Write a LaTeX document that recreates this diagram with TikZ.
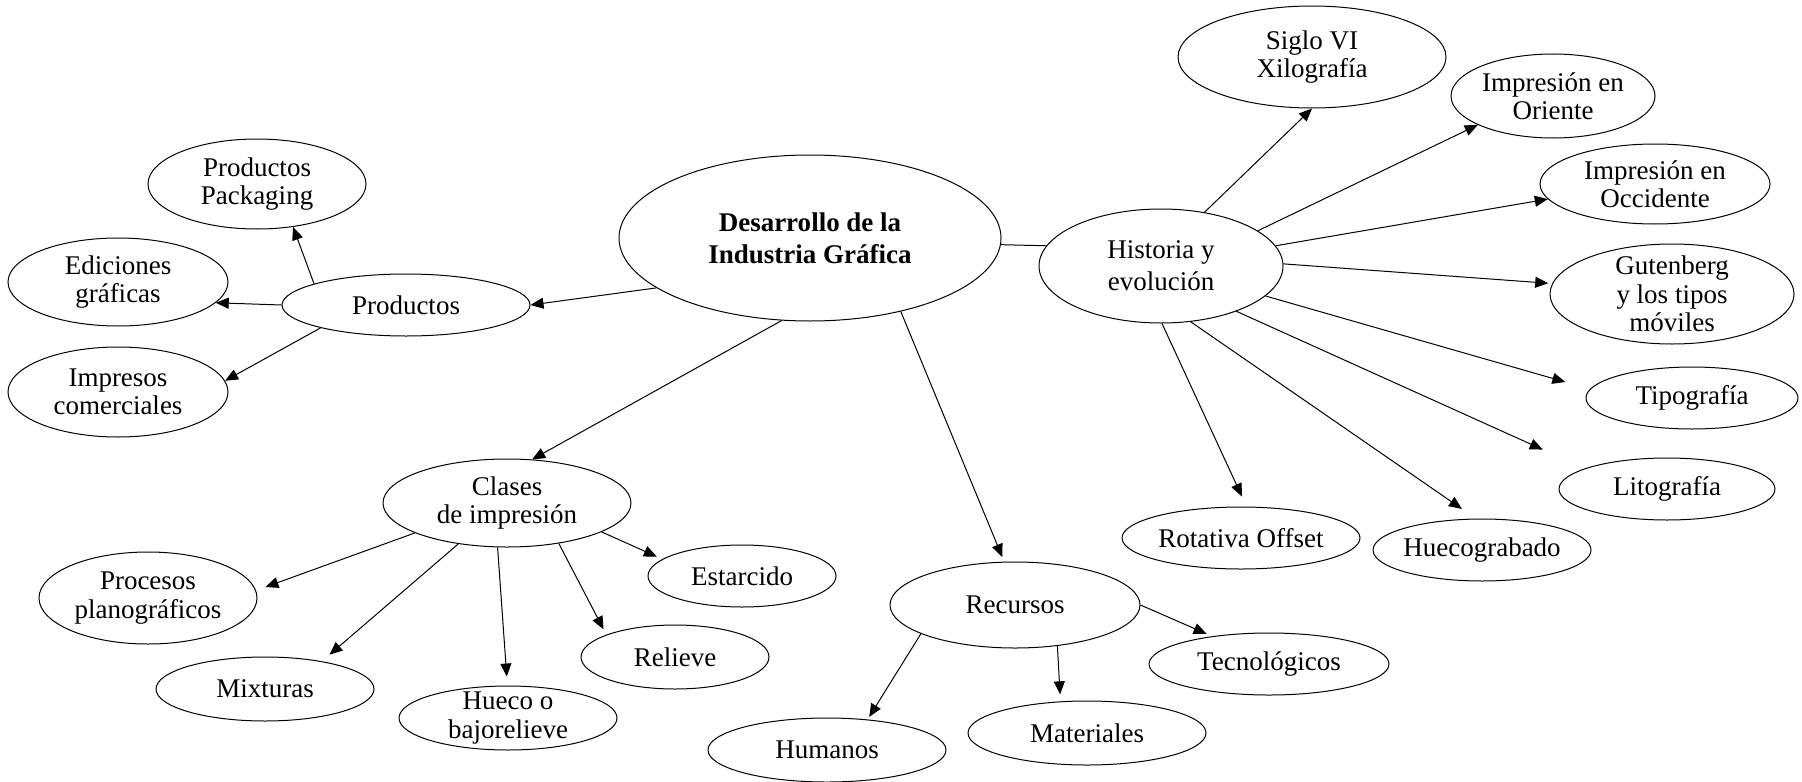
\documentclass[tikz,border=0pt]{standalone}
\usepackage{fontspec}
\setmainfont{Liberation Serif}
\usepackage{tikz}
\usetikzlibrary{shapes.geometric,arrows.meta}
\tikzstyle{topic}=[draw, ellipse, inner sep=-3pt, align=center, line width=0.5pt, font={\fontsize{13.5}{14.2}\selectfont}]
\tikzstyle{arrow}=[-{Triangle[length=6.5pt,width=5.5pt]}, line width=0.5pt]
\tikzstyle{link}=[line width=0.5pt]

\begin{document}
\begin{tikzpicture}[x=0.5pt, y=-0.5pt]%[baseline=0ex]
        \useasboundingbox (0,0) rectangle (1802,781);
        \node[topic, font={\fontsize{13.5}{16}\selectfont\bfseries}, minimum width=191pt, minimum height=83pt] (dig) at (810,238) {Desarrollo de la\\Industria Gráfica};
        \node[topic, font={\fontsize{13.5}{16}\selectfont}, minimum width=122pt, minimum height=57pt] (hist) at (1161,266) {Historia y\\evolución};
        \node[topic, minimum width=134pt, minimum height=51pt] (siglo) at (1312,57) {Siglo VI\\Xilografía};
        \node[topic, minimum width=102pt, minimum height=42pt] (oriente) at (1553,96) {Impresión en\\Oriente};
        \node[topic, minimum width=115pt, minimum height=40pt] (occid) at (1655,184) {Impresión en\\Occidente};
        \node[topic, minimum width=122pt, minimum height=50pt] (guten) at (1672,294) {Gutenberg\\y los tipos\\móviles};
        \node[topic, minimum width=106pt, minimum height=31pt] (tipo) at (1692,398) {Tipografía};
        \node[topic, minimum width=108pt, minimum height=31pt] (lito) at (1667,489) {Litografía};
        \node[topic, minimum width=109pt, minimum height=31pt] (huecogr) at (1482,550) {Huecograbado};
        \node[topic, minimum width=119pt, minimum height=31pt] (offset) at (1241,538) {Rotativa Offset};

        \node[topic, minimum width=124pt, minimum height=31pt] (prod) at (406,305) {Productos};
        \node[topic, minimum width=109pt, minimum height=45pt] (pack) at (257,184) {Productos\\Packaging};
        \node[topic, minimum width=110pt, minimum height=44pt] (edic) at (118,282) {Ediciones\\gráficas};
        \node[topic, minimum width=110pt, minimum height=45pt] (impr) at (118,392) {Impresos\\comerciales};

        \node[topic, minimum width=124pt, minimum height=44pt] (clases) at (507,503) {Clases\\de impresión};
        \node[topic, minimum width=109pt, minimum height=46pt] (plano) at (148,598) {Procesos\\planográficos};
        \node[topic, minimum width=94pt, minimum height=31pt] (estar) at (742,576) {Estarcido};
        \node[topic, minimum width=109pt, minimum height=32pt] (mixt) at (265,689) {Mixturas};
        \node[topic, minimum width=109pt, minimum height=32pt] (bajorel) at (508,718) {Hueco o\\bajorelieve};
        \node[topic, minimum width=94pt, minimum height=32pt] (reliev) at (675,657) {Relieve};

        \node[topic, minimum width=125pt, minimum height=43pt] (recur) at (1015,605) {Recursos};
        \node[topic, minimum width=120pt, minimum height=31pt] (tecno) at (1269,664) {Tecnológicos};
        \node[topic, minimum width=119pt, minimum height=32pt] (mater) at (1087,733) {Materiales};
        \node[topic, minimum width=119pt, minimum height=32pt] (human) at (827,750) {Humanos};

        \draw[link] (dig.-2.5) -- (hist.170.6);
        \draw[arrow] (dig.198.7) -- (prod.east);
        \draw[arrow] (dig.251) -- (clases.60);
        \draw[arrow, shorten >=2.5pt] (dig.-39.3) -- (recur.104);

        \draw[arrow] (hist.51.6) -- (siglo.south);
        \draw[arrow] (hist.20.2) -- (oriente.201);
        \draw[arrow] (hist.10.5) -- (occid.188.6);
        \draw[arrow, shorten >=2pt] (hist.1) -- (guten.175);
        \draw[arrow, shorten >=12.75pt] (hist.-16.7) -- (tipo.175.5);
        \draw[arrow, shorten >=23pt] (hist.-31.2) -- (lito.166.8);
        \draw[arrow, shorten >=8.5pt] (hist.-62) -- (huecogr.101);
        \draw[arrow, shorten >=5.5pt] (hist.-89) -- (offset.80);

        \draw[arrow] (prod.167.3) -- (pack.-50);
        \draw[arrow] (prod.west) -- (edic.-12);
        \draw[arrow] (prod.195) -- (impr.6);

        \draw[arrow, shorten >=5pt] (clases.198) -- (plano.4);
        \draw[arrow, shorten >=5pt] (clases.220) -- (mixt.26);
        \draw[arrow, shorten >=4.5pt] (clases.258) -- (bajorel.91);
        \draw[arrow, shorten >=3pt] (clases.-38.7) -- (reliev.162.6);
        \draw[arrow, shorten >=3pt] (clases.-17.2) -- (estar.168);

        \draw[arrow, shorten >=1.5pt] (recur.197.9) -- (human.37.6);
        \draw[arrow, shorten >=3.5pt] (recur.-44.3) -- (mater.130.6);
        \draw[arrow, shorten >=3pt] (recur.east) -- (tecno.154.2);
\end{tikzpicture}
\end{document}
